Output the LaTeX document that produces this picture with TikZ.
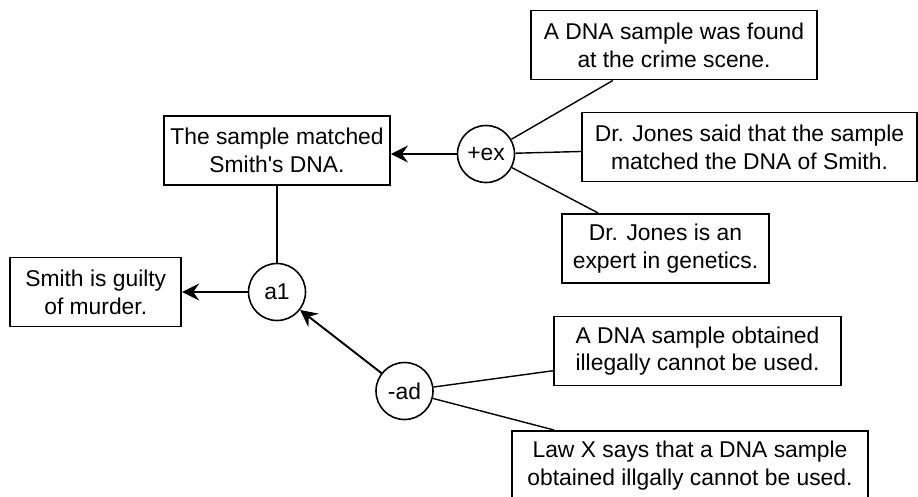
\documentclass[tikz,border=0pt]{standalone}
\usepackage{fontspec}
\setmainfont{Liberation Sans}
\usetikzlibrary{arrows.meta, positioning}
\tikzstyle{claim} = [rectangle, draw=black, line width=1.1pt, align=center, inner sep=0pt, minimum height=1.38cm, font=\fontsize{13}{15.8}\selectfont]
\tikzstyle{scheme} = [circle, draw=black, line width=0.9pt, inner sep=0pt, minimum size=1.14cm, font=\fontsize{13}{15.8}\selectfont]
\tikzstyle{arrow} = [line width=1.1pt,-{Stealth[length=3.4mm, width=3.4mm, inset=1.2mm]}]
\tikzstyle{link} = [line width=0.8pt]

\begin{document}
\begin{tikzpicture}
        \useasboundingbox (0,0) rectangle (18.36,-9.92);
        % Nodes
        \node [scheme] (a1) at (5.54,-5.84) {a1};
        \node [claim, minimum width=3.42cm, left=1.31cm of a1] (guilty) {Smith is guilty\\of murder.};
        \node [claim, minimum width=4.52cm, above=1.54cm of a1] (matched) {The sample matched\\Smith\textquotesingle s DNA.};
        \node [scheme] (ex) at (9.72,-3.08) {+ex};
        \node [claim, minimum width=5.72cm] (found) at (13.48,-0.9) {A DNA sample was found\\at the crime scene.};
        \node [claim, minimum width=6.7cm] (said) at (14.99,-2.94) {Dr. Jones said that the sample\\matched the DNA of Smith.};
        \node [claim, minimum width=4.14cm] (expert) at (13.31,-4.97) {Dr. Jones is an\\expert in genetics.};
        \node [scheme] (ad) at (8.09,-7.82) {-ad};
        \node [claim, minimum width=5.74cm] (illegal) at (13.95,-7.02) {A DNA sample obtained\\illegally cannot be used.};
        \node [claim, minimum width=7.12cm] (lawx) at (13.8,-9.31) {Law X says that a DNA sample\\obtained illgally cannot be used.};

        % Arrows
        \draw [arrow] (a1) -- (guilty);
        \draw [link] (matched) -- (a1);
        \draw [arrow] (ex) -- (ex -| matched.east);
        \draw [link] (ex) -- (found);
        \draw [link] (ex) -- (said);
        \draw [link] (ex) -- (expert);
        \draw [arrow] (ad) -- (a1);
        \draw [link] (ad) -- (illegal);
        \draw [link] (ad) -- (lawx);
    \end{tikzpicture}
\end{document}
